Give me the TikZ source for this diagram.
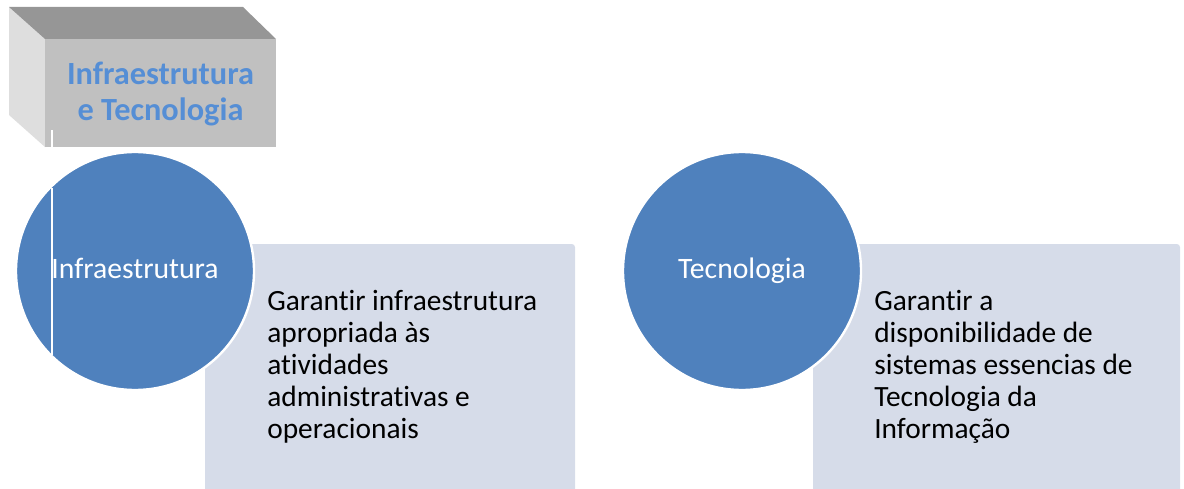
\documentclass[tikz,border=0pt]{standalone}
\usepackage{fontspec}
\setmainfont{Carlito}[Ligatures=NoCommon]
\usepackage{tikz}
\usetikzlibrary{calc}
\definecolor{bubbleblue}{HTML}{4F81BD}
\definecolor{notefill}{HTML}{D6DCE9}
\definecolor{titleblue}{HTML}{558ED5}
\definecolor{boxtop}{HTML}{969696}
\definecolor{boxfront}{HTML}{C0C0C0}
\definecolor{boxside}{HTML}{DEDEDE}

\begin{document}
\begin{tikzpicture}[
		bubble/.style={circle, fill=bubbleblue, draw=white, line width=0.6mm, minimum size=5.95cm, inner sep=0},
		notebox/.style={fill=notefill, rounded corners=0.8mm},
		notetext/.style={anchor=base west, align=left, inner sep=0, font=\fontsize{20.9}{22.7}\selectfont},
		bubbletext/.style={anchor=base, text=white, inner sep=0, font=\fontsize{21.1}{24}\selectfont}]
		%%%%% START %%%%%
		
		\useasboundingbox (0, 0) rectangle (29.6, 12.2);
		
		% caixa do titulo
		\fill[boxside] (0.225, 12.025) -- (1.125, 11.225) -- (1.125, 8.525) -- (0.225, 9.325) -- cycle;
		\fill[boxtop] (0.225, 12.025) -- (6.075, 12.025) -- (6.9, 11.225) -- (1.125, 11.225) -- cycle;
		\fill[boxfront] (1.125, 8.525) rectangle (6.9, 11.225);
		\draw[white, line width=0.3mm] (1.3, 8.525) -- (1.3, 8.95);
		\node[font=\fontsize{23}{25.6}\selectfont\bfseries, text=titleblue, align=center] (titulo) at (4.0125, 9.85) {Infraestrutura\\e Tecnologia};
		
		% infraestrutura
		\fill[notebox] (5.125, -0.1) rectangle (14.375, 6.1);
		\node[bubble] (infra) at (3.375, 5.425) {};
		\draw[white, line width=0.3mm] (1.3, 3.325) -- (1.3, 7.5);
		\node[bubbletext] (infratxt) at ($(infra.center)+(0, -0.185)$) {Infraestrutura};
		\node[notetext] (infranota) at (6.675, 1.25) {Garantir infraestrutura\\apropriada às\\atividades\\administrativas e\\operacionais};
		
		% tecnologia
		\fill[notebox] (20.325, -0.1) rectangle (29.5, 6.1);
		\node[bubble] (tec) at (18.55, 5.425) {};
		\node[bubbletext] (tectxt) at ($(tec.center)+(0, -0.185)$) {Tecnologia};
		\node[notetext] (tecnota) at (21.85, 1.25) {Garantir a\\disponibilidade de\\sistemas essencias de\\Tecnologia da\\Informação};
		
		%%%%% END %%%%%
	\end{tikzpicture}
\end{document}
